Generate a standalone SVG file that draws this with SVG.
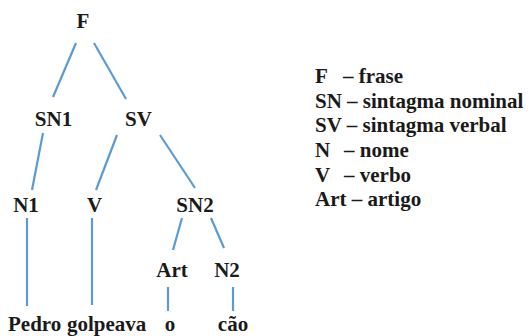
<svg xmlns="http://www.w3.org/2000/svg" width="530" height="336" viewBox="0 0 530 336">
<style>
text{font-family:"Liberation Serif","Times New Roman",serif;font-weight:bold;font-size:21px;fill:#1a1a1a}
.c{text-anchor:middle}
#connectors line{stroke:#5b9bd5;stroke-width:2.2;stroke-linecap:butt}
</style>
<rect width="530" height="336" fill="#fff"/>
<g id="connectors">
<line x1="76" y1="43" x2="53" y2="97"/>
<line x1="94" y1="43" x2="126" y2="99"/>
<line x1="43" y1="133" x2="32" y2="190"/>
<line x1="117" y1="135" x2="96" y2="190"/>
<line x1="160" y1="135" x2="195" y2="188"/>
<line x1="182" y1="218" x2="173" y2="250"/>
<line x1="211" y1="218" x2="224" y2="248"/>
<line x1="27" y1="218" x2="27" y2="306"/>
<line x1="92" y1="218" x2="92" y2="305"/>
<line x1="168" y1="287" x2="168" y2="311"/>
<line x1="233" y1="287" x2="233" y2="311"/>
</g>
<g id="F"><text class="c" x="83" y="28">F</text></g>
<g id="SN1"><text class="c" x="53.5" y="126">SN1</text></g>
<g id="SV"><text class="c" x="138.5" y="126">SV</text></g>
<g id="N1"><text class="c" x="26" y="212">N1</text></g>
<g id="V"><text class="c" x="94.5" y="212">V</text></g>
<g id="SN2"><text class="c" x="195" y="212">SN2</text></g>
<g id="Art"><text class="c" x="172" y="277">Art</text></g>
<g id="N2"><text class="c" x="227" y="277">N2</text></g>
<g id="Pedro"><text x="8" y="331">Pedro</text></g>
<g id="golpeava"><text x="67" y="331">golpeava</text></g>
<g id="o"><text class="c" x="170" y="331">o</text></g>
<g id="cao"><text class="c" x="233" y="331">cão</text></g>
<g id="legend">
<text x="315" y="83">F</text><text x="343" y="83">– frase</text>
<text x="315" y="107.5">SN – sintagma nominal</text>
<text x="315" y="132">SV – sintagma verbal</text>
<text x="315" y="157">N</text><text x="344" y="157">– nome</text>
<text x="315" y="181.5">V</text><text x="344" y="181.5">– verbo</text>
<text x="315" y="206">Art – artigo</text>
</g>
</svg>
